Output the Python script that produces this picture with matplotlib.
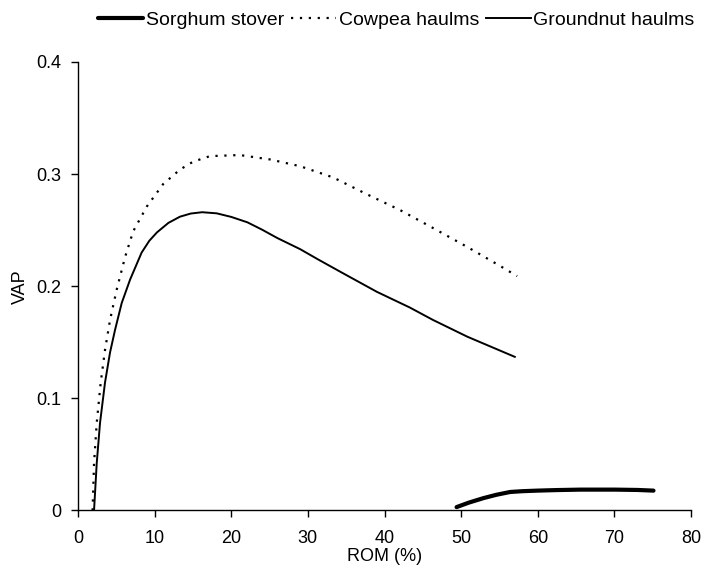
import matplotlib
matplotlib.use("Agg")
import matplotlib.pyplot as plt

plt.rcParams['font.family'] = ['Liberation Sans', 'DejaVu Sans']

# Sorghum stover
sorghum_x = [49.4, 51.0, 52.9, 54.6, 56.4, 58.0, 59.9, 62.5, 65.6, 70.0, 73.0, 75.1]
sorghum_y = [0.003, 0.007, 0.011, 0.014, 0.0165, 0.0172, 0.0177, 0.0182, 0.0186, 0.0186,
             0.0183, 0.0177]

# Cowpea haulms
cowpea_x = [1.9, 2.09, 2.44, 2.96, 3.52, 4.18, 5.05, 6.14, 7.2, 8.97, 11.1, 13.3, 15.0,
            17.2, 21.1, 25.1, 29.0, 33.3, 37.7, 42.0, 46.3, 50.8, 55.1, 57.3]
cowpea_y = [0.0, 0.042, 0.078, 0.114, 0.143, 0.17, 0.197, 0.226, 0.249, 0.271, 0.291,
            0.304, 0.311, 0.316, 0.317, 0.313, 0.307, 0.297, 0.282, 0.268, 0.252, 0.235,
            0.218, 0.209]

# Groundnut haulms
groundnut_x = [2.09, 2.44, 2.87, 3.52, 4.18, 4.83, 5.7, 6.8, 8.3, 9.3, 10.3, 11.8, 13.3,
               14.7, 16.2, 18.1, 20.0, 22.1, 24.0, 26.0, 29.0, 31.3, 34.2, 39.0, 43.3,
               46.3, 50.8, 57.0]
groundnut_y = [0.0, 0.042, 0.078, 0.114, 0.141, 0.161, 0.185, 0.206, 0.23, 0.2405, 0.248,
               0.2565, 0.262, 0.2648, 0.266, 0.265, 0.2618, 0.257, 0.2505, 0.243, 0.233,
               0.224, 0.213, 0.195, 0.181, 0.17, 0.155, 0.137]

x_ticks = [0, 10, 20, 30, 40, 50, 60, 70, 80]
y_ticks = [0, 0.1, 0.2, 0.3, 0.4]
y_tick_labels = ['0', '0.1', '0.2', '0.3', '0.4']

fig = plt.figure(figsize=(7.01, 5.84), dpi=100)
ax = fig.add_axes([0.1113, 0.1259, 0.8745, 0.768])

ax.plot(sorghum_x, sorghum_y, color='black', lw=3.0, solid_capstyle='round',
        label='Sorghum stover')
ax.plot(cowpea_x, cowpea_y, color='black', lw=1.6, linestyle=(0, (1, 3)),
        label='Cowpea haulms')
ax.plot(groundnut_x, groundnut_y, color='black', lw=1.4, solid_joinstyle='round',
        label='Groundnut haulms')

ax.set_xlim(0, 80)
ax.set_ylim(0, 0.4)
ax.set_xticks(x_ticks)
ax.set_yticks(y_ticks)
ax.set_yticklabels(y_tick_labels)
ax.tick_params(direction='out', length=5, width=1, labelsize=13, colors='black')
ax.tick_params(axis='x', pad=9)
ax.tick_params(axis='y', pad=7)
for s in ['top', 'right']:
    ax.spines[s].set_visible(False)
for s in ['left', 'bottom']:
    ax.spines[s].set_linewidth(1.0)

ax.set_xlabel('ROM (%)', fontsize=13, labelpad=1)
ax.set_ylabel('VAP', fontsize=13, labelpad=5)

fig.legend(loc='upper center', bbox_to_anchor=(0.5656, 1.01), ncol=3, frameon=False,
           fontsize=14, handlelength=2.3, handletextpad=0.15, columnspacing=0.35)

fig.savefig('out.png', dpi=100)
